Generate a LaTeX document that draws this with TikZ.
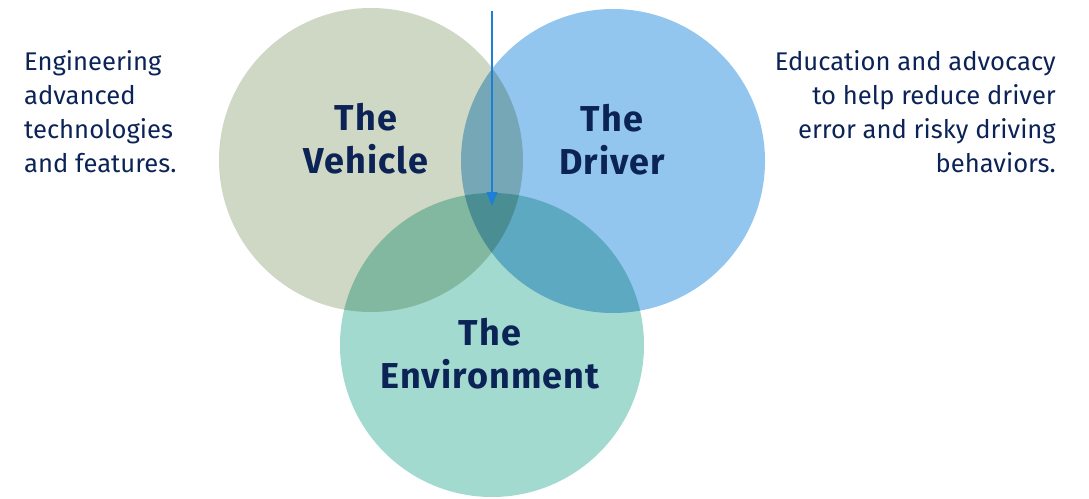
\documentclass[tikz,border=0pt]{standalone}
\usepackage{fontspec}
\setmainfont{Fira Sans}
\newfontfamily\titlefont[LetterSpace=3]{Fira Sans Bold}
\usetikzlibrary{arrows.meta}
\definecolor{navy}{RGB}{12,35,86}
\definecolor{sage}{RGB}{206,216,196}
\definecolor{sky}{RGB}{147,198,238}
\definecolor{teal}{RGB}{162,218,208}
\definecolor{arrowblue}{RGB}{30,127,214}
\tikzset{
  ring/.style={circle, minimum size=304pt, inner sep=0pt},
  title/.style={text=navy, font=\titlefont\fontsize{36}{43}\selectfont, align=center, inner sep=0pt},
  blurb/.style={text=navy, font=\fontsize{25.6}{34}\selectfont, inner sep=0pt}
}
\begin{document}
\begin{tikzpicture}[x=1pt,y=-1pt]
\useasboundingbox (0,0) rectangle (1089,498);
\begin{scope}[blend group=multiply]
\node[ring, fill=sage] (vehicle) at (371,160) {};
\node[ring, fill=sky] (driver) at (613,161) {};
\node[ring, fill=teal] (environment) at (492,345) {};
\end{scope}
\node[title] (vehiclelabel) at (366,139) {The\\Vehicle};
\node[title] (driverlabel) at (612,140) {The\\Driver};
\node[title] (environmentlabel) at (490,354) {The\\Environment};
\node[blurb, anchor=west, align=left] (engineering) at (24,112) {Engineering\\advanced\\technologies\\and features.};
\node[blurb, anchor=east, align=right] (education) at (1056,112) {Education and advocacy\\to help reduce driver\\error and risky driving\\behaviors.};
\coordinate (top) at (492,11);
\coordinate (tip) at (492,206);
\draw[arrowblue, line width=1.5pt, -{Triangle[length=14pt,width=11pt]}] (top) -- (tip);
\end{tikzpicture}
\end{document}
